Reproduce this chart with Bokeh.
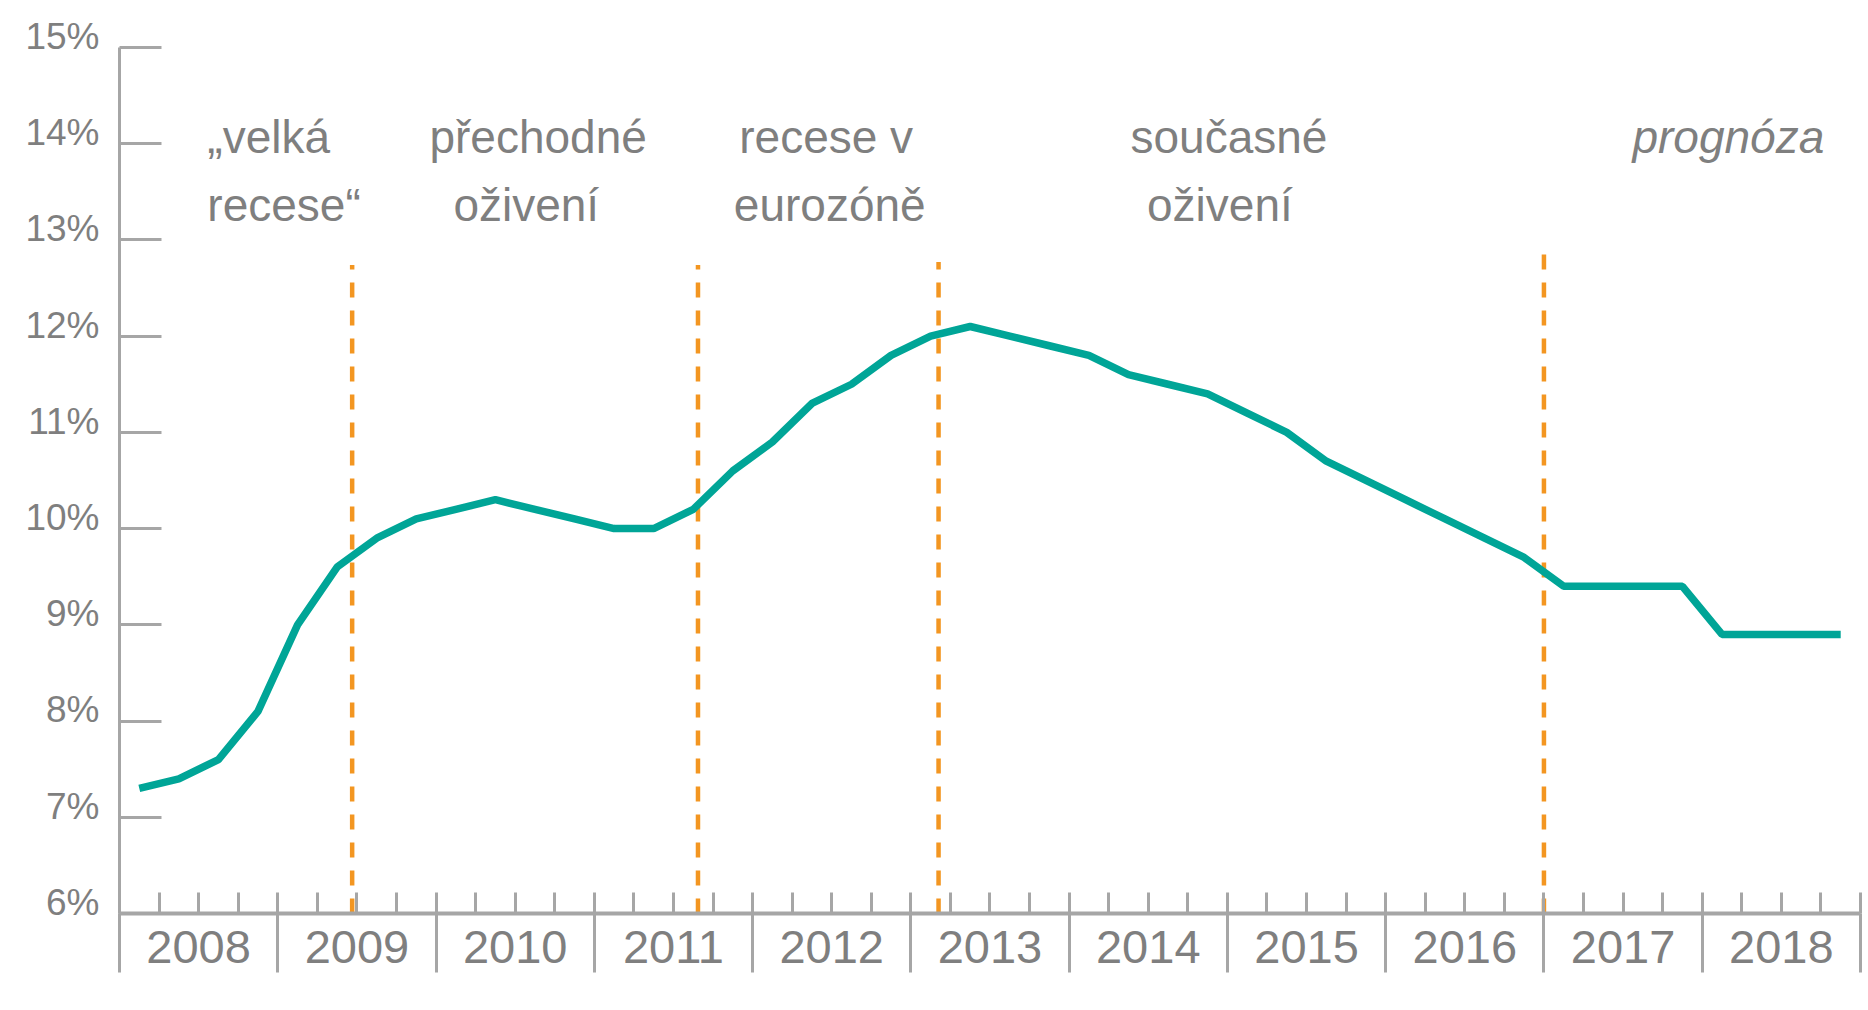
from bokeh.plotting import figure
from bokeh.models import LinearAxis, FixedTicker, Range1d, ColumnDataSource
from bokeh.core.properties import value
from bokeh.embed import file_html
from bokeh.resources import INLINE

# ---- data -------------------------------------------------------------
years = ["2008", "2009", "2010", "2011", "2012", "2013",
         "2014", "2015", "2016", "2017", "2018"]
# quarterly unemployment rate (%) 2008Q1 .. 2018Q4
unemployment = [7.3, 7.4, 7.6, 8.1,
                9.0, 9.6, 9.9, 10.1,
                10.2, 10.3, 10.2, 10.1,
                10.0, 10.0, 10.2, 10.6,
                10.9, 11.3, 11.5, 11.8,
                12.0, 12.1, 12.0, 11.9,
                11.8, 11.6, 11.5, 11.4,
                11.2, 11.0, 10.7, 10.5,
                10.3, 10.1, 9.9, 9.7,
                9.4, 9.4, 9.4, 9.4,
                8.9, 8.9, 8.9, 8.9]
y_ticks = [6, 7, 8, 9, 10, 11, 12, 13, 14, 15]
y_tick_labels = ["6%", "7%", "8%", "9%", "10%", "11%", "12%", "13%", "14%", "15%"]

# phase boundaries (in quarters from 2008Q1) and phase labels
phase_breaks = [5.88, 14.62, 20.70, 36.0]
phase_tops = [12.74, 12.74, 12.77, 12.87]
phase_lines = ["„velká", "recese“", "přechodné", "oživení", "recese v",
               "eurozóně", "současné", "oživení", "prognóza"]
phase_x = [2.22, 2.22, 10.58, 10.28, 17.86, 17.95, 28.04, 27.81, 40.66]
phase_y = [14.07, 13.36, 14.07, 13.36, 14.07, 13.36, 14.07, 13.36, 14.07]
phase_align = ["left", "left", "center", "center", "center", "center",
               "center", "center", "center"]
phase_style = ["normal"] * 8 + ["italic"]

# ---- style ------------------------------------------------------------
AXIS = "#a6a6a6"
TXT = "#7f7f7f"
TEAL = "#00a597"
ORANGE = "#f39621"
FONT = "Liberation Sans"

n_q = len(unemployment)
x = [i + 0.5 for i in range(n_q)]

# frame covers the whole figure so that the axes (placed at fixed
# locations) keep their outside ticks and labels visible
p = figure(width=1866, height=1006,
           x_range=Range1d(-3.0075, 44.152), y_range=Range1d(5.0335, 15.488),
           x_axis_location=None, y_axis_location=None,
           output_backend="svg", toolbar_location=None,
           min_border=0, min_border_left=0, min_border_right=0,
           min_border_top=0, min_border_bottom=0,
           outline_line_color=None, background_fill_color="white",
           border_fill_color="white")
p.grid.visible = False

# dashed phase separators
p.segment(x0=phase_breaks, y0=[6] * len(phase_breaks),
          x1=phase_breaks, y1=phase_tops,
          line_color=ORANGE, line_width=4.5, line_dash="15 13")

# main series
p.line(x, unemployment, line_color=TEAL, line_width=7.5)

# phase labels
src = ColumnDataSource(dict(x=phase_x, y=phase_y, text=phase_lines,
                            align=phase_align, style=phase_style))
p.text(x="x", y="y", text="text", source=src,
       text_font=value(FONT), text_font_size="46px", text_color=TXT,
       text_align="align", text_font_style="style",
       text_baseline="alphabetic")

# x axis: line, quarter ticks (up) and year separators (down)
year_bounds = [4 * k for k in range(len(years) + 1)]
ax_x = LinearAxis(fixed_location=6, bounds=(0, n_q),
                  ticker=FixedTicker(ticks=year_bounds,
                                     minor_ticks=list(range(n_q + 1))),
                  axis_line_color=AXIS, axis_line_width=4,
                  major_tick_line_color=AXIS, major_tick_line_width=3,
                  major_tick_in=0, major_tick_out=59,
                  minor_tick_line_color=AXIS, minor_tick_line_width=3,
                  minor_tick_in=21, minor_tick_out=0,
                  major_label_overrides={t: "" for t in year_bounds})
p.add_layout(ax_x, "below")

# x axis: year labels centred in each year
year_centres = [4 * k + 2 for k in range(len(years))]
ax_years = LinearAxis(fixed_location=6,
                      ticker=FixedTicker(ticks=year_centres, minor_ticks=[]),
                      axis_line_color=None, major_tick_line_color=None,
                      minor_tick_line_color=None,
                      major_tick_in=0, major_tick_out=0,
                      minor_tick_in=0, minor_tick_out=0,
                      major_label_standoff=18,
                      major_label_text_font=FONT,
                      major_label_text_font_size="47px",
                      major_label_text_color=TXT,
                      major_label_overrides=dict(zip(year_centres, years)))
p.add_layout(ax_years, "below")

# y axis: line and ticks pointing into the plot
ax_y = LinearAxis(fixed_location=0, bounds=(6, 15),
                  ticker=FixedTicker(ticks=y_ticks, minor_ticks=[]),
                  axis_line_color=AXIS, axis_line_width=3,
                  major_tick_line_color=AXIS, major_tick_line_width=3,
                  major_tick_in=42, major_tick_out=0,
                  minor_tick_line_color=None,
                  major_label_overrides={t: "" for t in y_ticks})
p.add_layout(ax_y, "left")

# y axis labels, sitting slightly above their ticks
y_label_pos = [t + 0.115 for t in y_ticks]
ax_ylab = LinearAxis(fixed_location=0,
                     ticker=FixedTicker(ticks=y_label_pos, minor_ticks=[]),
                     axis_line_color=None, major_tick_line_color=None,
                     minor_tick_line_color=None,
                     major_tick_in=0, major_tick_out=0,
                     minor_tick_in=0, minor_tick_out=0,
                     major_label_standoff=20,
                     major_label_text_font=FONT,
                     major_label_text_font_size="37px",
                     major_label_text_color=TXT,
                     major_label_overrides=dict(zip(y_label_pos, y_tick_labels)))
p.add_layout(ax_ylab, "left")

open("out.html", "w").write(file_html(p, INLINE))
